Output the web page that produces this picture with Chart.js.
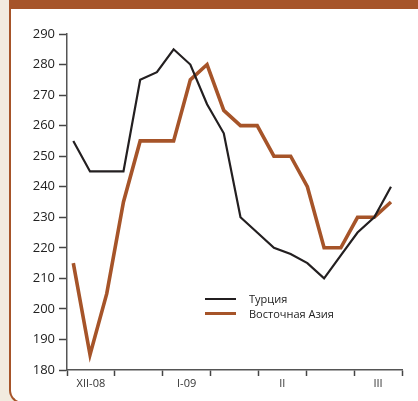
<!DOCTYPE html>
<html lang="ru">
<head>
  <meta charset="UTF-8">
  <title>Турция и Восточная Азия</title>
  <style>
    body {
      margin: 0;
      background: #f2ebdf;
      font-family: "Open Sans", Arial, sans-serif;
      width: 418px;
      height: 401px;
      overflow: hidden;
      position: relative;
    }
    .panel {
      position: absolute;
      left: 9px;
      top: 0;
      width: 420px;
      height: 393px;
      background: #fff;
      border-top: 9px solid #a65429;
      border-left: 2px solid #a65429;
      border-bottom: 2px solid #a65429;
      border-bottom-left-radius: 14px;
    }
    #chart {
      position: absolute;
      left: 0;
      top: 0;
    }
    .legend {
      position: absolute;
      left: 205px;
      top: 291px;
      font-size: 11px;
      color: #222;
      line-height: 15px;
    }
    .legend div {
      position: relative;
      padding-left: 44px;
      white-space: nowrap;
    }
    .legend span {
      position: absolute;
      left: 0;
      width: 31px;
    }
  </style>
</head>
<body>

<div class="panel"></div>
<canvas id="chart" width="418" height="401"></canvas>
<div class="legend">
  <div><span style="top:7px;height:2px;background:#231f20"></span>Турция</div>
  <div><span style="top:6px;height:3px;background:#a65429"></span>Восточная Азия</div>
</div>

<script src="https://cdn.jsdelivr.net/npm/chart.js"></script>
<script>
  // weekly observations, Dec 2008 - Mar 2009
  const weeks = [0, 1, 2, 3, 4, 5, 6, 7, 8, 9, 10, 11, 12, 13, 14, 15, 16, 17, 18, 19];
  const turkey = [255, 245, 245, 245, 275, 277.5, 285, 280, 267, 257.5, 230, 225, 220, 218, 215, 210, 217.5, 225, 230, 240];
  const eastAsia = [215, 185, 205, 235, 255, 255, 255, 275, 280, 265, 260, 260, 250, 250, 240, 220, 220, 230, 230, 235];
  // one label per axis interval (7 intervals)
  const monthLabels = ['XII-08', '', 'I-09', '', 'II', '', 'III'];

  // x range of the axis, in week units
  const xMin = -0.377;
  const xMax = 19.66;
  const step = (xMax - xMin) / 7;

  const toPoints = vals => vals.map((v, i) => ({ x: weeks[i], y: v }));

  new Chart(document.getElementById('chart'), {
    type: 'line',
    data: {
      datasets: [
        {
          label: 'Турция',
          data: toPoints(turkey),
          borderColor: '#231f20',
          borderWidth: 2.2,
          pointRadius: 0,
          tension: 0
        },
        {
          label: 'Восточная Азия',
          data: toPoints(eastAsia),
          borderColor: '#a65429',
          borderWidth: 3.6,
          pointRadius: 0,
          tension: 0
        }
      ]
    },
    options: {
      responsive: false,
      animation: false,
      layout: { padding: { top: 34, right: 16, left: 0, bottom: 0 } },
      plugins: {
        legend: { display: false },
        tooltip: { enabled: false }
      },
      scales: {
        x: {
          type: 'linear',
          min: xMin,
          max: xMax,
          afterBuildTicks: scale => {
            const t = [];
            for (let k = 0; k <= 7; k++) {
              t.push({ value: xMin + k * step });
              if (k < 7) t.push({ value: xMin + (k + 0.5) * step });
            }
            scale.ticks = t;
          },
          afterFit: scale => { scale.height = 31; },
          border: { color: '#555', width: 1.5 },
          grid: {
            drawOnChartArea: false,
            tickLength: 6,
            tickWidth: 1.5,
            tickColor: ctx => (ctx.index % 2 === 0 ? '#444' : 'rgba(0,0,0,0)')
          },
          ticks: {
            autoSkip: false,
            maxRotation: 0,
            padding: 1,
            color: '#333',
            font: { family: 'Open Sans', size: 11 },
            callback: (v, i) => (i % 2 ? monthLabels[(i - 1) / 2] : '')
          }
        },
        y: {
          min: 180,
          max: 290,
          afterFit: scale => { scale.width = 67; },
          border: { color: '#555', width: 1.5 },
          grid: {
            drawOnChartArea: false,
            tickLength: 8,
            tickWidth: 1.5,
            tickColor: '#444'
          },
          ticks: {
            stepSize: 10,
            padding: 4,
            color: '#222',
            font: { family: 'Open Sans', size: 13 }
          }
        }
      }
    }
  });
</script>

</body>
</html>
